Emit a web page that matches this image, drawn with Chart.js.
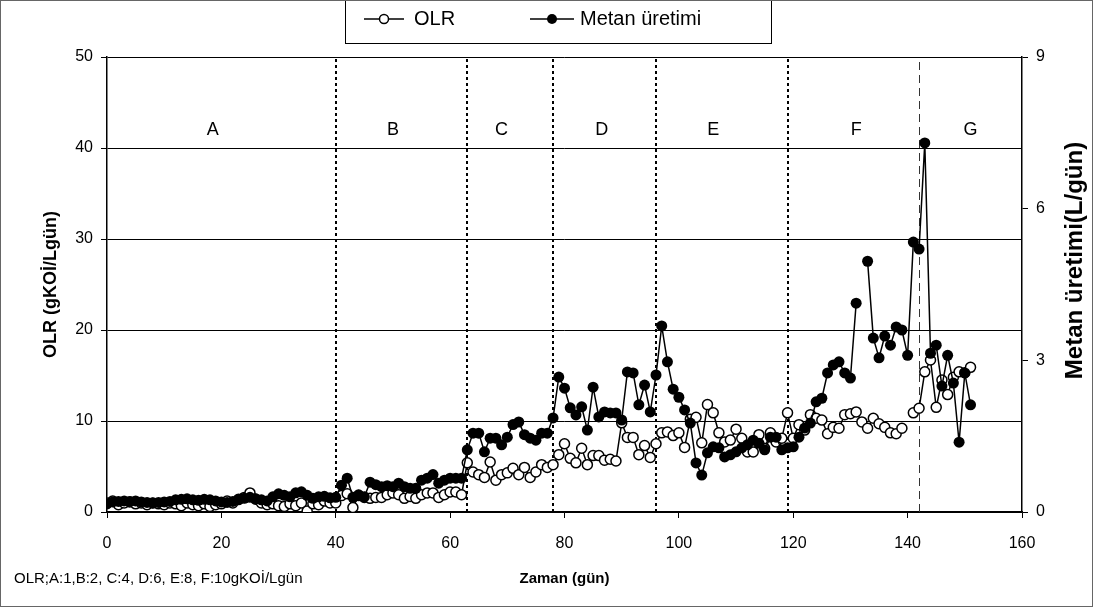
<!DOCTYPE html>
<html>
<head>
<meta charset="utf-8">
<script src="https://cdn.jsdelivr.net/npm/chart.js@4/dist/chart.umd.min.js"></script>
<style>
  body { margin: 0; background: #fff; }
  canvas { display: block; }
</style>
</head>
<body>
<canvas id="chart0" width="1093" height="607"></canvas>
<script>
/** Data **/
const days = [
  0,1,2,3,4,5,6,7,8,9,10,11,12,13,14,15,16,17,18,19,
  20,21,22,23,24,25,26,27,28,29,30,31,32,33,34,35,36,37,38,39,
  40,41,42,43,44,45,46,47,48,49,50,51,52,53,54,55,56,57,58,59,
  60,61,62,63,64,65,66,67,68,69,70,71,72,73,74,75,76,77,78,79,
  80,81,82,83,84,85,86,87,88,89,90,91,92,93,94,95,96,97,98,99,
  100,101,102,103,104,105,106,107,108,109,110,111,112,113,114,115,116,117,118,119,
  120,121,122,123,124,125,126,127,128,129,130,131,132,133,134,135,136,137,138,139,
  140,141,142,143,144,145,146,147,148,149,150,151
];

// OLR (gKOİ/Lgün), left axis
const olrValues = [
  1.0,1.2,0.8,1.0,1.1,0.9,1.0,0.8,1.0,0.9,0.8,1.0,0.9,0.7,1.0,0.8,0.7,0.9,0.6,0.8,
  0.9,1.2,1.0,1.4,1.6,2.1,1.4,1.0,0.8,0.9,0.7,0.6,0.9,0.7,1.0,0.1,0.9,0.8,1.2,1.0,
  1.0,1.8,2.0,0.5,1.8,1.6,1.5,1.6,1.6,1.9,2.1,1.9,1.5,1.7,1.5,1.9,2.1,2.1,1.6,1.9,
  2.2,2.2,1.9,5.4,4.4,4.1,3.8,5.5,3.5,4.1,4.3,4.8,4.1,4.9,3.8,4.4,5.2,4.9,5.2,6.3,
  7.5,5.9,5.4,7.0,5.2,6.2,6.2,5.7,5.8,5.6,9.8,8.2,8.2,6.3,7.3,6.0,7.5,8.7,8.8,8.4,
  8.7,7.1,10.2,10.4,7.6,11.8,10.9,8.7,7.7,7.9,9.1,8.1,6.6,6.6,8.5,7.0,8.7,7.7,8.1,10.9,
  8.1,9.6,9.0,10.7,10.3,10.1,8.6,9.3,9.2,10.7,10.8,11.0,9.9,9.2,10.3,9.7,9.3,8.7,8.6,9.2,
  null,10.9,11.4,15.4,16.7,11.5,14.5,12.9,14.8,15.4,15.3,15.9
];

// Metan üretimi (L/gün), right axis
const metanValues = [
  0.16,0.20,0.21,0.22,0.21,0.22,0.20,0.19,0.18,0.19,0.20,0.21,0.24,0.25,0.26,0.24,0.23,0.25,0.24,0.22,
  0.20,0.19,0.21,0.24,0.27,0.29,0.26,0.24,0.22,0.30,0.36,0.33,0.30,0.38,0.40,0.33,0.27,0.30,0.31,0.28,
  0.29,0.53,0.67,0.29,0.34,0.30,0.59,0.54,0.50,0.52,0.50,0.57,0.50,0.47,0.47,0.63,0.67,0.74,0.57,0.63,
  0.67,0.67,0.67,1.23,1.56,1.56,1.19,1.46,1.46,1.33,1.48,1.73,1.78,1.53,1.46,1.42,1.56,1.56,1.86,2.67,
  2.45,2.06,1.92,2.08,1.62,2.47,1.88,1.98,1.96,1.96,1.82,2.77,2.75,2.12,2.51,1.98,2.71,3.68,2.97,2.43,
  2.27,2.02,1.76,0.97,0.73,1.17,1.29,1.27,1.09,1.13,1.19,1.27,1.33,1.42,1.36,1.23,1.48,1.48,1.23,1.27,
  1.29,1.48,1.66,1.76,2.18,2.25,2.75,2.91,2.97,2.75,2.65,4.13,null,4.96,3.44,3.05,3.48,3.30,3.66,3.60,
  3.10,5.34,5.20,7.30,3.14,3.30,2.49,3.10,2.55,1.38,2.75,2.12
];

// phase boundaries and labels
const phaseBounds = [40, 63, 78, 96, 119];
const phaseBoundG = 142;
const phaseLabels = ["A", "B", "C", "D", "E", "F", "G"];
const phaseLabelDays = [18.5, 50, 69, 86.5, 106, 131, 151];
const phaseLabelLevel = 42;

const seriesNames = ["OLR", "Metan üretimi"];
const rightTitle = "Metan üretimi(L/gün)";
const noteText = "OLR;A:1,B:2, C:4, D:6, E:8, F:10gKOİ/Lgün";

const FONT = "'Liberation Sans', Arial, sans-serif";

function toPoints(values) {
  return days.map(function(d, i) { return { x: d, y: values[i] }; });
}

/** extra drawing: phase lines, letters, legend box, note, frame **/
const decorations = {
  id: "decorations",
  beforeDatasetsDraw: function(chart) {
    const ctx = chart.ctx;
    const xs = chart.scales.x;
    const area = chart.chartArea;
    ctx.save();
    ctx.strokeStyle = "#000";
    ctx.lineWidth = 2;
    ctx.setLineDash([3, 3]);
    phaseBounds.forEach(function(d) {
      const px = Math.round(xs.getPixelForValue(d));
      ctx.beginPath();
      ctx.moveTo(px, area.bottom);
      ctx.lineTo(px, area.top);
      ctx.stroke();
    });
    ctx.lineWidth = 1;
    ctx.strokeStyle = "#333";
    ctx.setLineDash([8, 5]);
    const gx = Math.round(xs.getPixelForValue(phaseBoundG)) + 0.5;
    ctx.beginPath();
    ctx.moveTo(gx, area.bottom);
    ctx.lineTo(gx, area.top);
    ctx.stroke();
    ctx.restore();
  },
  afterDraw: function(chart) {
    const ctx = chart.ctx;
    const xs = chart.scales.x;
    const ys = chart.scales.y;
    const area = chart.chartArea;
    ctx.save();
    ctx.fillStyle = "#000";
    ctx.font = "18px " + FONT;
    ctx.textAlign = "center";
    ctx.textBaseline = "middle";
    phaseLabels.forEach(function(l, i) {
      ctx.fillText(l, xs.getPixelForValue(phaseLabelDays[i]), ys.getPixelForValue(phaseLabelLevel));
    });

    // right axis title, reading bottom to top
    ctx.save();
    ctx.translate(1075, (area.top + area.bottom) / 2 - 24);
    ctx.rotate(-Math.PI / 2);
    ctx.font = "bold 24px " + FONT;
    ctx.fillText(rightTitle, 0, 0);
    ctx.restore();

    // legend box
    ctx.strokeStyle = "#000";
    ctx.lineWidth = 1;
    ctx.strokeRect(345.5, 0.5, 426, 43);
    const ly = 19;
    ctx.lineWidth = 1.5;
    // OLR item
    ctx.beginPath(); ctx.moveTo(364, ly); ctx.lineTo(404, ly); ctx.stroke();
    ctx.beginPath(); ctx.arc(384, ly, 4.5, 0, Math.PI * 2);
    ctx.fillStyle = "#fff"; ctx.fill(); ctx.stroke();
    // Metan item
    ctx.beginPath(); ctx.moveTo(530, ly); ctx.lineTo(574, ly); ctx.stroke();
    ctx.beginPath(); ctx.arc(552, ly, 5, 0, Math.PI * 2);
    ctx.fillStyle = "#000"; ctx.fill();
    ctx.font = "20px " + FONT;
    ctx.textAlign = "left";
    ctx.fillText(seriesNames[0], 414, ly);
    ctx.fillText(seriesNames[1], 580, ly);

    // note under the axis
    ctx.font = "15px " + FONT;
    ctx.fillText(noteText, 14, 579);

    // outer frame
    ctx.strokeStyle = "#666";
    ctx.lineWidth = 1;
    ctx.strokeRect(0.5, 0.5, 1092, 606);
    ctx.restore();
  }
};

var ctx = document.getElementById("chart0");
var chart = new Chart(ctx, {
  type: "scatter",
  data: {
    datasets: [{
      label: seriesNames[0],
      data: toPoints(olrValues),
      yAxisID: "y",
      showLine: true,
      spanGaps: false,
      borderColor: "#000",
      borderWidth: 1.5,
      pointRadius: 5,
      pointBorderWidth: 1.5,
      pointBackgroundColor: "#fff",
      pointBorderColor: "#000",
      tension: 0,
      order: 1
    }, {
      label: seriesNames[1],
      data: toPoints(metanValues),
      yAxisID: "y2",
      showLine: true,
      spanGaps: false,
      borderColor: "#000",
      borderWidth: 1.5,
      pointRadius: 5.5,
      pointBorderWidth: 0,
      pointBackgroundColor: "#000",
      tension: 0,
      order: 0
    }]
  },
  options: {
    responsive: false,
    animation: false,
    layout: { padding: { top: 57, left: 0, right: 0, bottom: 0 } },
    plugins: {
      legend: { display: false },
      tooltip: { enabled: false }
    },
    scales: {
      x: {
        type: "linear",
        min: 0,
        max: 160,
        border: { color: "#000", width: 1.5 },
        grid: { drawOnChartArea: false, tickLength: 6, color: "#000" },
        ticks: { stepSize: 20, color: "#000", padding: 16, font: { family: FONT, size: 16 } },
        title: {
          display: true,
          text: "Zaman (gün)",
          color: "#000",
          font: { family: FONT, size: 15, weight: "bold" },
          padding: { top: 0, bottom: 19 }
        },
        afterFit: function(s) { s.height = 95; }
      },
      y: {
        position: "left",
        min: 0,
        max: 50,
        border: { color: "#000", width: 1.5 },
        grid: { color: "#000", tickLength: 6 },
        ticks: { stepSize: 10, color: "#000", padding: 8, font: { family: FONT, size: 16 } },
        title: {
          display: true,
          text: "OLR (gKOİ/Lgün)",
          color: "#000",
          font: { family: FONT, size: 18, weight: "bold" },
          padding: { top: 40, bottom: 0 }
        },
        afterFit: function(s) { s.width = 107; }
      },
      y2: {
        position: "right",
        min: 0,
        max: 9,
        border: { color: "#000", width: 1.5 },
        grid: { drawOnChartArea: false, tickLength: 6, color: "#000" },
        ticks: { stepSize: 3, color: "#000", padding: 8, font: { family: FONT, size: 16 } },
        afterFit: function(s) { s.width = 71; }
      }
    }
  },
  plugins: [decorations]
});
</script>
</body>
</html>
